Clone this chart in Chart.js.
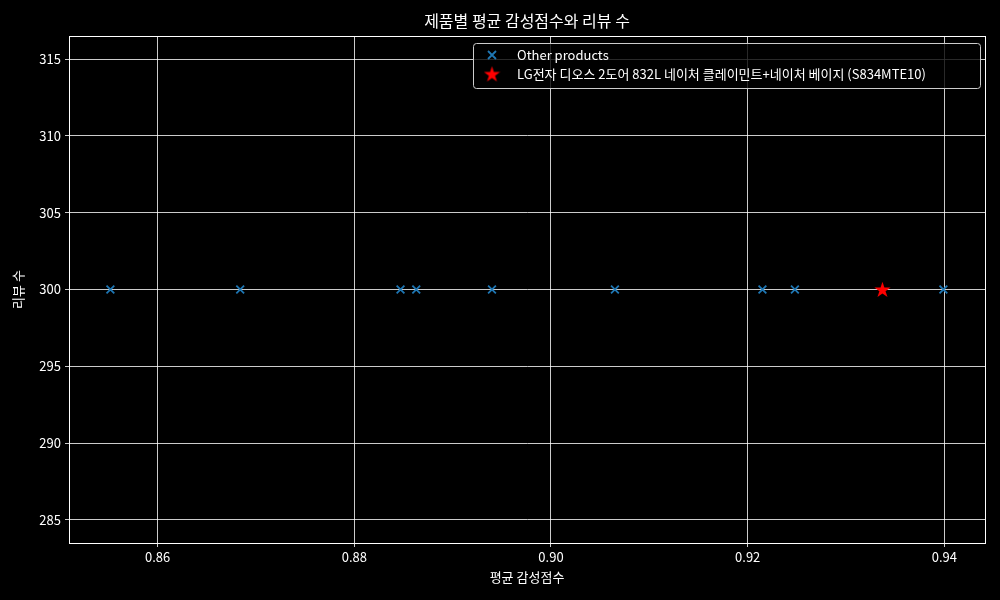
<!DOCTYPE html>
<html>
<head>
<meta charset="utf-8">
<script src="https://cdn.jsdelivr.net/npm/chart.js@4.4.1/dist/chart.umd.min.js"></script>
<style>
  html, body { margin: 0; padding: 0; background: #000; }
  #wrap { width: 1000px; height: 600px; }
</style>
</head>
<body>
<div id="wrap"><canvas id="sentChart" width="1000" height="600"></canvas></div>
<script>
const otherScores = [0.8552, 0.8684, 0.8847, 0.8863, 0.8940, 0.9065, 0.9215, 0.9248, 0.9399];
const otherReviews = [300, 300, 300, 300, 300, 300, 300, 300, 300];
const targetScores = [0.9337];
const targetReviews = [300];
const seriesNames = ['Other products', 'LG전자 디오스 2도어 832L 네이처 클레이민트+네이처 베이지 (S834MTE10)'];
const xTicks = [0.86, 0.88, 0.90, 0.92, 0.94];
const yTicks = [285, 290, 295, 300, 305, 310, 315];

const FONT = '"Noto Sans CJK KR", "Noto Sans", sans-serif';

// 5-point star marker
function makeStar(size, color) {
    const c = document.createElement('canvas');
    c.width = size; c.height = size;
    const g = c.getContext('2d');
    const cx = size / 2, cy = size / 2, R = size / 2, r = R * 0.38;
    g.beginPath();
    for (let i = 0; i < 10; i++) {
        const rad = i % 2 === 0 ? R : r;
        const a = -Math.PI / 2 + i * Math.PI / 5;
        g.lineTo(cx + rad * Math.cos(a), cy + rad * Math.sin(a) + size * 0.04);
    }
    g.closePath();
    g.fillStyle = color;
    g.fill();
    return c;
}
const starImg = makeStar(17, '#ff0000');

const pts = (xs, ys) => xs.map((x, i) => ({ x: x, y: ys[i] }));

const extras = {
    id: 'extras',
    beforeDraw(chart) {
        const ctx = chart.ctx;
        ctx.save();
        ctx.fillStyle = '#000';
        ctx.fillRect(0, 0, chart.width, chart.height);
        ctx.restore();
    },
    afterDraw(chart) {
        const ctx = chart.ctx;
        const a = chart.chartArea;
        ctx.save();
        // full axes frame (chart.js only draws left/bottom)
        ctx.strokeStyle = '#ffffff';
        ctx.lineWidth = 1;
        ctx.strokeRect(Math.round(a.left) + 0.5, Math.round(a.top) + 0.5,
            Math.round(a.right - a.left), Math.round(a.bottom - a.top));

        ctx.fillStyle = '#fff';
        ctx.textAlign = 'center';
        ctx.textBaseline = 'middle';
        ctx.font = '16px ' + FONT;
        ctx.fillText('제품별 평균 감성점수와 리뷰 수', (a.left + a.right) / 2, 21);
        ctx.font = '13px ' + FONT;
        ctx.fillText('평균 감성점수', (a.left + a.right) / 2, 577);
        ctx.translate(18, (a.top + a.bottom) / 2);
        ctx.rotate(-Math.PI / 2);
        ctx.fillText('리뷰 수', 0, 0);
        ctx.restore();

        // legend box, upper right
        ctx.save();
        const bx = 473, by = 43, bw = 507, bh = 45;
        ctx.fillStyle = 'rgba(0,0,0,0.8)';
        ctx.strokeStyle = '#cccccc';
        ctx.lineWidth = 1;
        ctx.beginPath();
        ctx.roundRect(bx + 0.5, by + 0.5, bw, bh, 3);
        ctx.fill();
        ctx.stroke();
        // cross marker
        ctx.strokeStyle = '#1f77b4';
        ctx.lineWidth = 1.8;
        const mx = 492, my1 = 55, my2 = 74, s = 4;
        ctx.beginPath();
        ctx.moveTo(mx - s, my1 - s); ctx.lineTo(mx + s, my1 + s);
        ctx.moveTo(mx + s, my1 - s); ctx.lineTo(mx - s, my1 + s);
        ctx.stroke();
        ctx.drawImage(starImg, mx - 8.5, my2 - 8.5);
        ctx.fillStyle = '#fff';
        ctx.font = '13px ' + FONT;
        ctx.textAlign = 'left';
        ctx.textBaseline = 'middle';
        ctx.fillText(seriesNames[0], 517, my1);
        ctx.fillText(seriesNames[1], 517, my2);
        ctx.restore();
    }
};

new Chart(document.getElementById('sentChart'), {
    type: 'scatter',
    data: {
        datasets: [{
            label: seriesNames[0],
            data: pts(otherScores, otherReviews),
            pointStyle: 'crossRot',
            radius: 5.5,
            hoverRadius: 5.5,
            borderColor: '#1f77b4',
            backgroundColor: '#1f77b4',
            borderWidth: 1.8
        }, {
            label: seriesNames[1],
            data: pts(targetScores, targetReviews),
            pointStyle: starImg,
            radius: 8.5,
            borderColor: '#ff0000',
            backgroundColor: '#ff0000'
        }]
    },
    options: {
        responsive: false,
        animation: false,
        events: [],
        layout: { padding: { top: 36, right: 15, left: 0, bottom: 0 } },
        plugins: {
            legend: { display: false },
            title: { display: false },
            tooltip: { enabled: false }
        },
        scales: {
            x: {
                type: 'linear',
                min: 0.85099,
                max: 0.94413,
                afterBuildTicks: (sc) => { sc.ticks = xTicks.map(v => ({ value: v })); },
                afterFit: (sc) => { sc.height = 57; },
                grid: { color: '#ffffff', lineWidth: 0.8, tickLength: 4, tickColor: '#ffffff' },
                border: { color: '#ffffff', width: 1 },
                ticks: {
                    color: '#ffffff',
                    font: { family: FONT, size: 13 },
                    padding: 2,
                    maxRotation: 0,
                    callback: (v) => v.toFixed(2)
                }
            },
            y: {
                type: 'linear',
                min: 283.5,
                max: 316.5,
                afterBuildTicks: (sc) => { sc.ticks = yTicks.map(v => ({ value: v })); },
                afterFit: (sc) => { sc.width = 69; },
                grid: { color: '#ffffff', lineWidth: 0.8, tickLength: 4, tickColor: '#ffffff' },
                border: { color: '#ffffff', width: 1 },
                ticks: {
                    color: '#ffffff',
                    font: { family: FONT, size: 13 },
                    padding: 4,
                    callback: (v) => String(v)
                }
            }
        }
    },
    plugins: [extras]
});
</script>
</body>
</html>
